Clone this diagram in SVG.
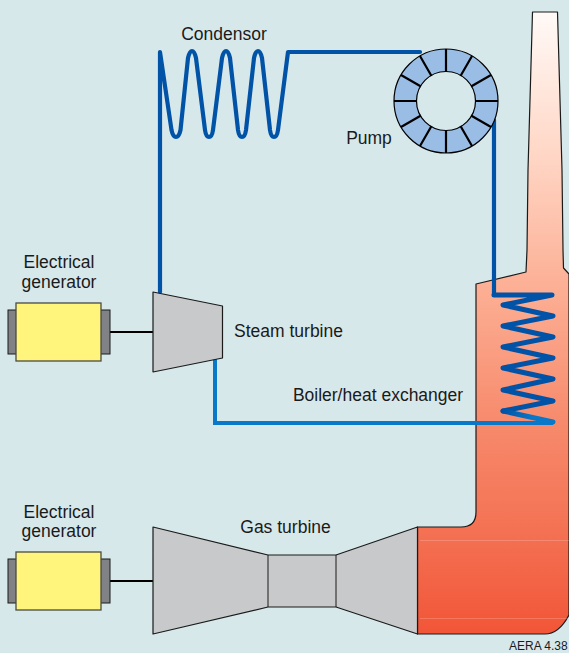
<svg xmlns="http://www.w3.org/2000/svg" width="569" height="653" viewBox="0 0 569 653">
<style>
text{font-family:"Liberation Sans",Arial,sans-serif;font-size:17.5px;fill:#1a1a1a;text-anchor:middle}
.body{fill:#c8c9cb;stroke:#1a1a1a;stroke-width:1.2;stroke-linejoin:round}
.gen{fill:#fff47c;stroke:#4a4a40;stroke-width:1.3}
.cap{fill:#808285;stroke:#1a1a1a;stroke-width:1}
.shaft{stroke:#000;stroke-width:2;fill:none}
.dark{fill:none;stroke:#0053a6;stroke-width:4.2;stroke-linejoin:round;stroke-linecap:round}
.coil{fill:none;stroke:#0053a6;stroke-width:5;stroke-linejoin:round;stroke-linecap:round}
.light{fill:none;stroke:#0a78c8;stroke-width:4;stroke-linejoin:miter}
.seg{fill:#9abde6;stroke:#000;stroke-width:1.2}
.spoke{stroke:#000;stroke-width:2.2}
</style>
<defs>
<linearGradient id="stack" gradientUnits="userSpaceOnUse" x1="0" y1="12" x2="0" y2="634">
<stop offset="0" stop-color="#fffaf7"/>
<stop offset="0.22" stop-color="#ffd8c8"/>
<stop offset="0.45" stop-color="#fcae93"/>
<stop offset="0.66" stop-color="#f78a6c"/>
<stop offset="0.83" stop-color="#f47254"/>
<stop offset="1" stop-color="#f25537"/>
</linearGradient>
<linearGradient id="fade" gradientUnits="userSpaceOnUse" x1="503" y1="411" x2="553" y2="422">
<stop offset="0" stop-color="#0053a6"/>
<stop offset="0.6" stop-color="#0a78c8"/>
</linearGradient>
</defs>
<rect width="569" height="653" fill="#d7e8eb"/>
<g id="stack-body">
<path d="M532.500 12H557.500L562 170L563 250L563.500 268L569 274V615Q559 634 545 634H417.500V527H461Q476 527 476 512V284L526 272L527 250L528 170Z" fill="url(#stack)" stroke="#1a1a1a" stroke-width="1.2" stroke-linejoin="round"/>
<path d="M420 540.500H569M420 618.500H569" stroke="#fff" stroke-opacity="0.18" stroke-width="1"/>
</g>
<g id="connectors">
<path class="dark" d="M160 292V52L171.500 130Q173 137 176 137Q179 137 180.500 130L188 58Q189.500 51 192 51Q194.500 51 196 58L205 130Q206 137 209 137Q212 137 213 130L222 58Q223.500 51 226 51Q228.500 51 230 58L238 130Q239 137 242 137Q245 137 246 130L254 58Q255.500 51 258 51Q260.500 51 262 58L270 130Q271 137 274 137Q277 137 278 130L288 52H420"/>
<path class="dark" d="M494 120V295"/>
<path class="coil" d="M494 295H552L503 305L553 316L503 326L553 337L503 347L553 358L503 368L553 379L503 390L553 401L503 411"/>
<path d="M503 411L553 422" fill="none" stroke="url(#fade)" stroke-width="5" stroke-linecap="round"/>
<path class="light" d="M215 358V423H553"/>
<path class="shaft" d="M110 332H153M110 581H153"/>
</g>
<g id="pump">
<path class="seg" fill-rule="evenodd" d="M394 101a52 52 0 1 0 104 0a52 52 0 1 0 -104 0ZM416.500 101a29.500 29.500 0 1 0 59 0a29.500 29.500 0 1 0 -59 0Z"/>
<path class="spoke" d="M446 49V72M446 130V153M394 101H417M475 101H498M420 56L431.500 76M460.500 126L472 146M472 56L460.500 76M431.500 126L420 146M401 75L421 86.500M471 115.500L491 127M491 75L471 86.500M421 115.500L401 127"/>
</g>
<g id="steam-turbine">
<polygon class="body" points="153,292 222.500,306 222.500,358 153,372"/>
<text x="288.500" y="337">Steam turbine</text>
</g>
<g id="gas-turbine">
<polygon class="body" points="153,527 268,555 336,555 417.500,527 417.500,634 336,607 268,607 153,634"/>
<path d="M268 555V607M336 555V607" stroke="#1a1a1a" stroke-width="1" fill="none"/>
<text x="285.500" y="533">Gas turbine</text>
</g>
<g id="generator-1">
<rect class="cap" x="8" y="310" width="102" height="44"/>
<rect class="gen" x="16" y="303" width="85" height="58"/>
<text x="59" y="268">Electrical</text>
<text x="59" y="288">generator</text>
</g>
<g id="generator-2">
<rect class="cap" x="8" y="559" width="102" height="44"/>
<rect class="gen" x="16" y="552" width="85" height="58"/>
<text x="59" y="518">Electrical</text>
<text x="59" y="537">generator</text>
</g>
<g id="labels">
<text x="224" y="40">Condensor</text>
<text x="369" y="144">Pump</text>
<text x="378" y="401">Boiler/heat exchanger</text>
<text x="509" y="650" style="font-size:12px;text-anchor:start">AERA 4.38</text>
</g>
</svg>
